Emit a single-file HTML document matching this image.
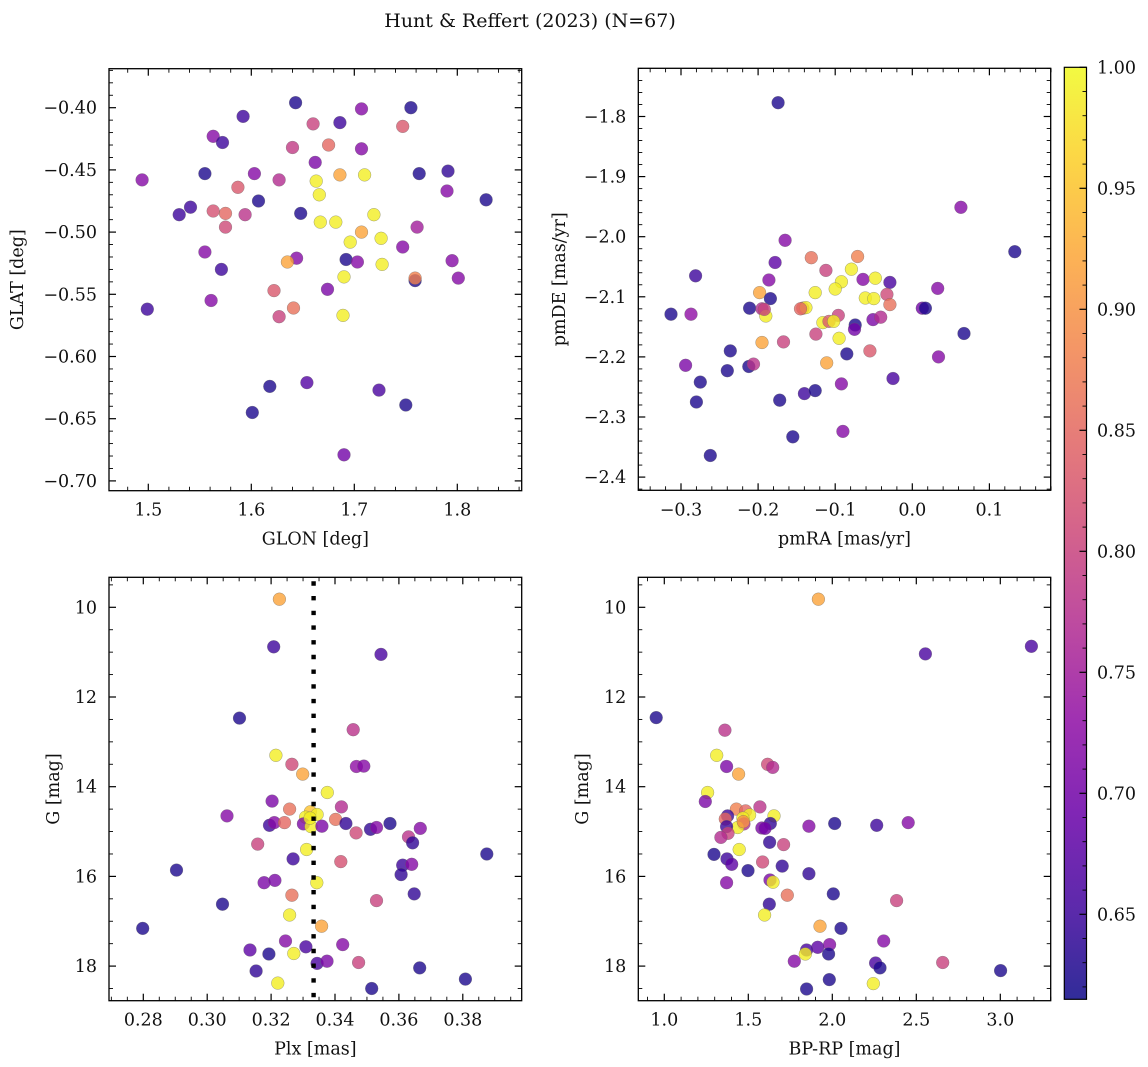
<!DOCTYPE html>
<html><head><meta charset="utf-8"><style>
html,body{margin:0;padding:0;background:#fff;}
svg{display:block;font-family:"DejaVu Serif","Liberation Serif",serif;}
svg text{font-family:"DejaVu Serif","Liberation Serif",serif;}
</style></head><body>
<svg id="fig" width="1148" height="1067" viewBox="0 0 1148 1067" xmlns="http://www.w3.org/2000/svg">
<defs>
<linearGradient id="plasmaGrad" x1="0" y1="1" x2="0" y2="0">
<stop offset="0" stop-color="#0d0887"/><stop offset="0.1" stop-color="#41049d"/><stop offset="0.2" stop-color="#6a00a8"/><stop offset="0.3" stop-color="#8f0da4"/><stop offset="0.4" stop-color="#b12a90"/><stop offset="0.5" stop-color="#cc4778"/><stop offset="0.6" stop-color="#e16462"/><stop offset="0.7" stop-color="#f2844b"/><stop offset="0.8" stop-color="#fca636"/><stop offset="0.9" stop-color="#fcce25"/><stop offset="1" stop-color="#f0f921"/>
</linearGradient>
</defs>
<text x="530" y="27" text-anchor="middle" font-size="19" font-family="DejaVu Serif, Liberation Serif, serif" fill="#111">Hunt &amp; Reffert (2023) (N=67)</text>
</svg>
<script>
// ---- data ----
const glon=[1.643,1.592,1.707,1.755,1.660,1.686,1.747,1.563,1.572,1.640,1.675,1.707,1.662,1.494,1.555,1.603,1.627,1.663,1.686,1.710,1.763,1.791,1.587,1.790,1.666,1.607,1.828,1.541,1.530,1.563,1.575,1.594,1.648,1.667,1.682,1.719,1.575,1.761,1.707,1.696,1.726,1.555,1.747,1.644,1.635,1.692,1.703,1.727,1.571,1.795,1.759,1.759,1.801,1.690,1.674,1.622,1.561,1.499,1.641,1.627,1.689,1.618,1.654,1.724,1.601,1.750,1.690];
const glat=[-0.396,-0.407,-0.401,-0.400,-0.413,-0.412,-0.415,-0.423,-0.428,-0.432,-0.430,-0.433,-0.444,-0.458,-0.453,-0.453,-0.458,-0.459,-0.454,-0.454,-0.453,-0.451,-0.464,-0.467,-0.470,-0.475,-0.474,-0.480,-0.486,-0.483,-0.485,-0.486,-0.485,-0.492,-0.492,-0.486,-0.496,-0.496,-0.500,-0.508,-0.505,-0.516,-0.512,-0.521,-0.524,-0.522,-0.524,-0.526,-0.530,-0.523,-0.539,-0.537,-0.537,-0.536,-0.546,-0.547,-0.555,-0.562,-0.561,-0.568,-0.567,-0.624,-0.621,-0.627,-0.645,-0.639,-0.679];
const prob1=[0.625,0.65,0.72,0.625,0.80,0.65,0.83,0.72,0.65,0.79,0.85,0.72,0.71,0.72,0.625,0.72,0.77,0.99,0.92,0.99,0.625,0.64,0.83,0.72,0.99,0.625,0.625,0.65,0.65,0.82,0.85,0.78,0.625,0.99,0.99,0.99,0.81,0.75,0.92,0.99,0.99,0.72,0.72,0.72,0.92,0.625,0.72,0.99,0.65,0.72,0.625,0.88,0.72,0.99,0.71,0.83,0.72,0.65,0.86,0.80,0.99,0.625,0.67,0.66,0.625,0.625,0.70];

const pmra=[-0.174,0.063,0.133,-0.165,-0.131,-0.071,-0.178,-0.112,-0.079,-0.281,-0.186,-0.092,-0.064,-0.048,-0.029,-0.198,-0.126,-0.100,0.033,-0.184,-0.061,-0.050,-0.033,-0.029,-0.313,-0.287,-0.211,-0.195,-0.190,-0.142,-0.138,-0.096,-0.116,-0.108,-0.125,-0.074,-0.075,-0.051,-0.041,0.013,0.017,0.067,-0.195,-0.167,-0.095,-0.236,-0.085,-0.055,-0.294,-0.240,-0.212,-0.206,0.034,-0.111,-0.275,-0.025,-0.092,-0.280,-0.172,-0.140,-0.126,-0.155,-0.090,-0.262,-0.192,-0.145,-0.102];
const pmde=[-1.777,-1.951,-2.025,-2.006,-2.035,-2.033,-2.043,-2.056,-2.054,-2.065,-2.072,-2.075,-2.071,-2.069,-2.076,-2.093,-2.093,-2.087,-2.086,-2.103,-2.102,-2.103,-2.096,-2.113,-2.129,-2.129,-2.119,-2.120,-2.132,-2.119,-2.118,-2.131,-2.143,-2.141,-2.162,-2.147,-2.154,-2.138,-2.134,-2.119,-2.119,-2.161,-2.176,-2.175,-2.169,-2.190,-2.195,-2.190,-2.214,-2.223,-2.216,-2.212,-2.200,-2.210,-2.242,-2.236,-2.245,-2.275,-2.272,-2.261,-2.256,-2.333,-2.324,-2.364,-2.121,-2.120,-2.141];
const prob2=[0.625,0.72,0.625,0.72,0.86,0.88,0.68,0.80,0.99,0.65,0.72,0.99,0.72,0.99,0.66,0.92,0.99,0.99,0.72,0.625,0.99,0.99,0.81,0.86,0.625,0.73,0.625,0.77,0.99,0.85,0.99,0.80,0.99,0.83,0.80,0.625,0.70,0.71,0.77,0.70,0.625,0.625,0.92,0.80,0.99,0.625,0.625,0.83,0.71,0.625,0.625,0.78,0.72,0.92,0.625,0.66,0.72,0.625,0.625,0.65,0.625,0.625,0.72,0.625,0.80,0.85,0.99];

const plx=[0.3226,0.3208,0.3544,0.3101,0.3457,0.3215,0.3265,0.3467,0.3490,0.3299,0.3376,0.3203,0.3258,0.3420,0.3062,0.3323,0.3308,0.3344,0.3195,0.3210,0.3242,0.3301,0.3325,0.3359,0.3402,0.3434,0.3466,0.3511,0.3530,0.3572,0.3630,0.3643,0.3667,0.3158,0.3311,0.3875,0.3269,0.3418,0.2904,0.3612,0.3640,0.3607,0.3178,0.3212,0.3343,0.3265,0.3648,0.3048,0.3530,0.3258,0.2798,0.3358,0.3245,0.3134,0.3193,0.3271,0.3309,0.3424,0.3344,0.3375,0.3474,0.3153,0.3665,0.3221,0.3515,0.3808,0.3322];
const gmag3=[9.82,10.88,11.05,12.47,12.73,13.30,13.50,13.55,13.54,13.72,14.13,14.32,14.50,14.45,14.65,14.56,14.68,14.62,14.86,14.80,14.80,14.83,14.89,14.88,14.73,14.82,15.03,14.95,14.91,14.82,15.12,15.25,14.93,15.28,15.40,15.50,15.61,15.67,15.86,15.75,15.73,15.96,16.14,16.09,16.14,16.42,16.39,16.62,16.54,16.86,17.16,17.11,17.44,17.64,17.73,17.72,17.57,17.52,17.94,17.89,17.92,18.11,18.04,18.38,18.50,18.29,14.70];
const prob3=[0.92,0.65,0.66,0.625,0.78,0.99,0.81,0.73,0.72,0.92,0.99,0.71,0.86,0.77,0.72,0.95,0.99,0.99,0.65,0.72,0.85,0.71,0.99,0.71,0.86,0.64,0.81,0.64,0.72,0.625,0.78,0.64,0.72,0.80,0.99,0.625,0.65,0.82,0.625,0.65,0.72,0.64,0.71,0.71,0.99,0.86,0.64,0.625,0.80,0.99,0.625,0.92,0.72,0.68,0.625,0.99,0.66,0.72,0.66,0.71,0.80,0.64,0.625,0.99,0.625,0.625,0.99];

const bprp=[1.917,2.554,3.185,0.952,1.361,1.312,1.371,1.615,1.645,1.442,1.258,1.244,1.569,1.429,1.484,1.508,1.653,1.377,1.363,1.468,1.474,1.437,1.631,1.581,1.861,2.014,2.264,2.452,1.371,1.379,1.337,1.627,1.710,1.446,1.296,1.373,1.401,1.585,1.702,1.498,1.861,1.371,1.629,1.647,1.732,2.006,2.383,1.625,1.597,1.927,2.052,2.306,1.984,1.913,1.847,1.839,1.978,1.774,2.258,2.284,2.657,3.002,1.982,2.244,1.847,1.470,1.600];
const gmag4=[9.82,11.04,10.87,12.46,12.74,13.30,13.55,13.50,13.57,13.72,14.13,14.33,14.45,14.50,14.54,14.63,14.65,14.65,14.72,14.70,14.83,14.91,14.82,14.92,14.88,14.82,14.86,14.80,14.89,15.04,15.13,15.24,15.29,15.40,15.51,15.61,15.73,15.68,15.77,15.87,15.94,16.14,16.08,16.13,16.42,16.39,16.54,16.62,16.86,17.11,17.16,17.44,17.52,17.58,17.64,17.73,17.73,17.89,17.93,18.04,17.92,18.10,18.30,18.39,18.51,14.78,14.93];
const prob4=[0.92,0.66,0.66,0.625,0.78,0.99,0.71,0.81,0.77,0.92,0.99,0.71,0.78,0.88,0.85,0.99,0.99,0.65,0.85,0.99,0.77,0.99,0.64,0.71,0.72,0.625,0.65,0.72,0.65,0.80,0.77,0.64,0.80,0.99,0.625,0.65,0.68,0.81,0.64,0.625,0.64,0.72,0.71,0.99,0.86,0.625,0.80,0.64,0.99,0.92,0.625,0.72,0.72,0.68,0.66,0.99,0.625,0.72,0.66,0.625,0.80,0.625,0.625,0.99,0.625,0.90,0.70];

const xt1=[1.5,1.6,1.7,1.8], yt1=[-0.40,-0.45,-0.50,-0.55,-0.60,-0.65,-0.70];
const xt2=[-0.3,-0.2,-0.1,0.0,0.1], yt2=[-1.8,-1.9,-2.0,-2.1,-2.2,-2.3,-2.4];
const xt3=[0.28,0.30,0.32,0.34,0.36,0.38], yt3=[10,12,14,16,18];
const xt4=[1.0,1.5,2.0,2.5,3.0], yt4=[10,12,14,16,18];
const cbTicks=[1.00,0.95,0.90,0.85,0.80,0.75,0.70,0.65];
const refPlx=[0.3333];

// ---- helpers ----
const NS="http://www.w3.org/2000/svg";
const FF="DejaVu Serif, Liberation Serif, serif";
const svg=document.getElementById('fig');
const VMIN=0.615, VMAX=1.0;
const PL=[[13,8,135],[65,4,157],[106,0,168],[143,13,164],[177,42,144],[204,71,120],[225,100,98],[242,132,75],[252,166,54],[252,206,37],[240,249,33]];
function plasma(v){let t=(v-VMIN)/(VMAX-VMIN);t=Math.max(0,Math.min(1,t));const f=t*10,i=Math.min(9,Math.floor(f)),r=f-i;const a=PL[i],b=PL[i+1];return 'rgb('+a.map((c,k)=>Math.round(c+(b[k]-c)*r)).join(',')+')';}
function mk(tag,attrs,parent){const e=document.createElementNS(NS,tag);for(const k in attrs)e.setAttribute(k,attrs[k]);if(tag==='text')e.setAttribute('font-family',FF);(parent||svg).appendChild(e);return e;}
function fmt(v,d){return (v<0?'\u2212':'')+Math.abs(v).toFixed(d);}

function panel(cfg){
  const g=mk('g',{});
  
  
  const L=cfg.L,R=cfg.R,T=cfg.T,B=cfg.B;
  const sx=v=>cfg.x0+(v-cfg.xv0)*cfg.xs, sy=v=>cfg.y0+(v-cfg.yv0)*cfg.ys;
  const pg=mk('g',{},g);
  
  
  for(let i=0;i<cfg.xs_.length;i++){
    const c=mk('circle',{cx:sx(cfg.xs_[i]).toFixed(1),cy:sy(cfg.ys_[i]).toFixed(1),r:6.4,fill:plasma(cfg.p[i]),'fill-opacity':0.8,stroke:'#666','stroke-opacity':0.6,'stroke-width':0.5},pg);
    
    
  }
  if(cfg.vline){for(const v of cfg.vline){const l=mk('line',{x1:sx(v),x2:sx(v),y1:T+4,y2:B,stroke:'#000','stroke-width':4.4,'stroke-dasharray':'4.4 10.3'},g);
    
    }}
  const tk=mk('g',{stroke:'#000'},g);
  function xtick(v,len,w){const x=sx(v);if(x<L-0.5||x>R+0.5)return;mk('line',{x1:x,x2:x,y1:B,y2:B-len,'stroke-width':w},tk);mk('line',{x1:x,x2:x,y1:T,y2:T+len,'stroke-width':w},tk);}
  function ytick(v,len,w){const y=sy(v);if(y<T-0.5||y>B+0.5)return;mk('line',{x1:L,x2:L+len,y1:y,y2:y,'stroke-width':w},tk);mk('line',{x1:R,x2:R-len,y1:y,y2:y,'stroke-width':w},tk);}
  const xmin=Math.min(cfg.xt[0],cfg.xt[cfg.xt.length-1]);
  for(let k=-10;k<60;k++){const v=xmin+k*cfg.xminor;if(Math.abs(((v-xmin)/cfg.xmaj)-Math.round((v-xmin)/cfg.xmaj))<1e-6)continue;xtick(v,4,0.9);}
  const ymin=Math.min(...cfg.yt);
  for(let k=-10;k<60;k++){const v=ymin+k*cfg.yminor;if(Math.abs(((v-ymin)/cfg.ymaj)-Math.round((v-ymin)/cfg.ymaj))<1e-6)continue;ytick(v,4,0.9);}
  cfg.xt.forEach(v=>xtick(v,7,1.2));
  cfg.yt.forEach(v=>ytick(v,7,1.2));
  const fr=mk('rect',{x:L,y:T,width:R-L,height:B-T,fill:'none',stroke:'#000','stroke-width':1.3},g);
  
  
  cfg.xt.forEach(v=>{const t=mk('text',{x:sx(v),y:B+25,'text-anchor':'middle','font-size':17.5,fill:'#111'},g);t.textContent=fmt(v,cfg.xd);
    
    });
  cfg.yt.forEach(v=>{const t=mk('text',{x:L-12,y:sy(v)+6,'text-anchor':'end','font-size':17.5,fill:'#111'},g);t.textContent=fmt(v,cfg.yd);
    
    });
  const xl=mk('text',{x:(L+R)/2,y:B+54,'text-anchor':'middle','font-size':17.5,fill:'#111'},g);xl.textContent=cfg.xlabel;
  
  
  const ycx=cfg.ylx, ycy=(T+B)/2;
  const yl=mk('text',{x:ycx,y:ycy,'text-anchor':'middle','font-size':17.5,fill:'#111',transform:'rotate(-90 '+ycx+' '+ycy+')','dominant-baseline':'central'},g);yl.textContent=cfg.ylabel;
  
  
}

panel({name:'glon-glat-panel',L:109,R:521.7,T:68.7,B:490.7,x0:148.3,xv0:1.5,xs:1030,y0:107.7,yv0:-0.40,ys:-1244,
  xs_:glon,ys_:glat,p:prob1,xt:xt1,yt:yt1,xmaj:0.1,xminor:0.02,ymaj:0.05,yminor:0.01,xd:1,yd:2,xlabel:'GLON [deg]',ylabel:'GLAT [deg]',ylx:18});
panel({name:'proper-motion-panel',L:638.3,R:1050.7,T:68.3,B:490.3,x0:912.3,xv0:0,xs:771,y0:236.7,yv0:-2.0,ys:-601,
  xs_:pmra,ys_:pmde,p:prob2,xt:xt2,yt:yt2,xmaj:0.1,xminor:0.02,ymaj:0.1,yminor:0.02,xd:1,yd:1,xlabel:'pmRA [mas/yr]',ylabel:'pmDE [mas/yr]',ylx:560});
panel({name:'parallax-panel',L:109,R:521.7,T:577.3,B:1000.7,x0:143.3,xv0:0.28,xs:3195,y0:607.3,yv0:10,ys:44.85,
  xs_:plx,ys_:gmag3,p:prob3,xt:xt3,yt:yt3,xmaj:0.02,xminor:0.005,ymaj:2,yminor:0.5,xd:2,yd:0,xlabel:'Plx [mas]',ylabel:'G [mag]',ylx:54,vline:refPlx});
panel({name:'cmd-panel',L:638.3,R:1050.7,T:577.3,B:1000.7,x0:664.3,xv0:1.0,xs:168,y0:607.3,yv0:10,ys:44.85,
  xs_:bprp,ys_:gmag4,p:prob4,xt:xt4,yt:yt4,xmaj:0.5,xminor:0.1,ymaj:2,yminor:0.5,xd:1,yd:0,xlabel:'BP-RP [mag]',ylabel:'G [mag]',ylx:583});

(function(){
  const g=mk('g',{});
  
  
  const T=67.3,B=999.3,L=1064.3,R=1086.5;
  const cy=v=>67.3+(1.0-v)*2420;
  const r=mk('rect',{x:L,y:T,width:R-L,height:B-T,fill:'url(#plasmaGrad)','fill-opacity':0.85},g);
  
  
  for(let k=0;k<=40;k++){const v=0.62+k*0.01;const y=cy(v);if(y<T-0.5||y>B+0.5)continue;
    const major=Math.abs(v*20-Math.round(v*20))<1e-6;
    mk('line',{x1:R,x2:R-(major?7:4),y1:y,y2:y,stroke:'#000','stroke-width':major?1.2:0.9},g);}
  cbTicks.forEach(v=>{const t=mk('text',{x:1097,y:cy(v)+6,'font-size':17.5,fill:'#111'},g);t.textContent=v.toFixed(2);
    
    });
  mk('rect',{x:L,y:T,width:R-L,height:B-T,fill:'none',stroke:'#000','stroke-width':1.2},g);
})();
</script>
</body></html>
